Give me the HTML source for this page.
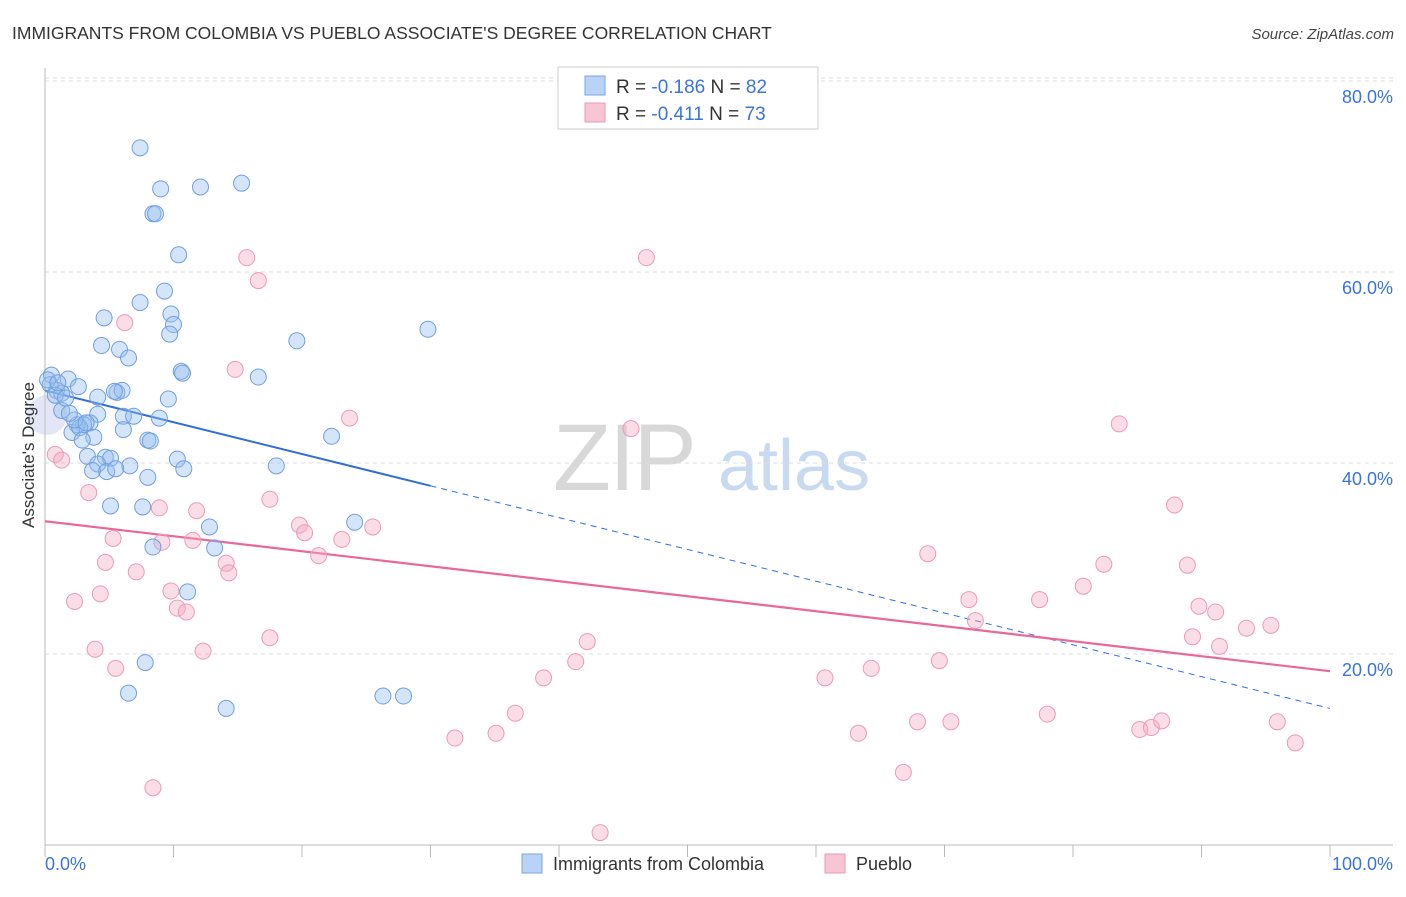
<!DOCTYPE html>
<html><head><meta charset="utf-8"><style>
body{margin:0;background:#fff;font-family:"Liberation Sans",sans-serif;}
svg text{font-family:"Liberation Sans",sans-serif;}
</style></head><body>
<svg id="chart" width="1406" height="892" xmlns="http://www.w3.org/2000/svg">
<text x="12" y="39" font-size="17.5" fill="#333">IMMIGRANTS FROM COLOMBIA VS PUEBLO ASSOCIATE'S DEGREE CORRELATION CHART</text>
<text x="1394" y="39" font-size="15" fill="#444" text-anchor="end" font-style="italic">Source: ZipAtlas.com</text>
<g>
<text x="553" y="490" font-size="95" fill="#d8d8d8" font-family="Liberation Serif" letter-spacing="-2">ZIP</text>
<text x="718" y="490" font-size="72" fill="#c8daf0">atlas</text>
</g>
<g id="grid"></g>
<g id="axes"></g>
<g id="trends"></g>
<g id="points"></g>
<text transform="translate(34,455) rotate(-90)" font-size="17" fill="#333" text-anchor="middle">Associate's Degree</text>
<g>
<rect x="558" y="67" width="260" height="62" fill="#fff" stroke="#ccc"/>
<rect x="585" y="76" width="20" height="19" fill="#b8d3f5" stroke="#7aa7e0"/>
<rect x="585" y="103" width="20" height="19" fill="#f8c5d5" stroke="#eb99b3"/>
<text x="616" y="93" font-size="19" fill="#333">R = <tspan fill="#3a74d6">-0.186</tspan>   N = <tspan fill="#3a74d6">82</tspan></text>
<text x="616" y="120" font-size="19" fill="#333">R = <tspan fill="#3a74d6">-0.411</tspan>   N = <tspan fill="#3a74d6">73</tspan></text>
</g>
<g>
<rect x="522" y="854" width="20" height="19" fill="#b8d3f5" stroke="#7aa7e0"/>
<text x="553" y="870" font-size="18" fill="#333">Immigrants from Colombia</text>
<rect x="825" y="854" width="20" height="19" fill="#f8c5d5" stroke="#eb99b3"/>
<text x="856" y="870" font-size="18" fill="#333">Pueblo</text>
</g>
</svg>
<script>
const yTicks=[20,40,60,80];
const yTickLabels=["20.0%","40.0%","60.0%","80.0%"];
const xLabels=["0.0%","100.0%"];
const blueX=[7.4,9.0,12.1,15.3,8.4,8.6,10.4,7.4,9.3,4.6,9.8,10.0,9.7,4.4,5.8,6.5,19.6,29.8,10.6,10.7,16.6,0.5,1.8,2.6,4.1,5.6,6.0,5.4,0.9,1.3,9.6,1.3,4.1,6.1,6.9,8.9,6.1,3.5,3.0,2.5,2.1,2.7,3.8,8.0,8.2,22.3,3.3,4.7,5.1,4.1,6.6,10.3,3.7,4.8,5.5,10.8,8.0,18.0,5.1,7.6,24.1,12.8,8.4,13.2,11.1,7.8,6.5,14.1,26.3,27.9,0.4,0.8,0.2,1.0,1.6,2.3,2.9,1.9,3.2];
const blueY=[73.0,68.7,68.9,69.3,66.1,66.1,61.8,56.8,58.0,55.2,55.6,54.5,53.5,52.3,51.9,51.0,52.8,54.0,49.6,49.4,49.0,49.2,48.8,48.0,46.9,47.4,47.6,47.5,47.6,47.3,46.7,45.5,45.1,44.9,44.9,44.7,43.5,44.2,44.0,44.0,43.2,43.7,42.7,42.4,42.3,42.8,40.7,40.6,40.5,39.9,39.7,40.4,39.2,39.1,39.4,39.4,38.5,39.7,35.5,35.4,33.8,33.3,31.2,31.1,26.5,19.1,15.9,14.3,15.6,15.6,48.2,47.1,48.7,48.4,46.8,44.5,42.4,45.2,44.2];
const pinkX=[8.4,43.2,46.8,15.7,16.6,6.2,14.8,23.7,45.6,83.6,0.8,1.3,3.4,17.5,8.9,11.8,19.8,20.2,23.1,25.5,5.3,9.1,11.5,4.7,7.1,14.1,14.3,21.3,9.8,2.3,4.3,10.3,11.0,17.5,3.9,12.3,5.5,42.2,41.3,38.8,36.6,35.1,31.9,68.7,71.9,72.4,77.4,80.8,82.4,87.9,88.9,89.8,91.1,89.3,91.4,93.5,95.4,60.7,64.3,69.6,63.3,67.9,70.5,78.0,85.2,86.1,86.9,95.9,97.3,66.8];
const pinkY=[6.0,1.3,61.5,61.5,59.1,54.7,49.8,44.7,43.6,44.1,40.9,40.3,36.9,36.2,35.3,35.0,33.5,32.7,32.0,33.3,32.1,31.7,31.9,29.6,28.6,29.5,28.5,30.3,26.6,25.5,26.3,24.8,24.4,21.7,20.5,20.3,18.5,21.3,19.2,17.5,13.8,11.7,11.2,30.5,25.7,23.5,25.7,27.1,29.4,35.6,29.3,25.0,24.4,21.8,20.8,22.7,23.0,17.5,18.5,19.3,11.7,12.9,12.9,13.7,12.1,12.3,13.0,12.9,10.7,7.6];
const blueTrend=[47.6,14.3];
const blueSolidEnd=30;
const pinkTrend=[33.9,18.2];

const NS="http://www.w3.org/2000/svg";
const X0=45,X1=1330,Y0=845,YPER=9.55;
function sx(v){return X0+(X1-X0)*v/100;}
function sy(v){return Y0-v*YPER;}
function mk(tag,attrs,parent){const e=document.createElementNS(NS,tag);for(const k in attrs)e.setAttribute(k,attrs[k]);parent.appendChild(e);return e;}
const grid=document.getElementById('grid'),axes=document.getElementById('axes'),trends=document.getElementById('trends'),pts=document.getElementById('points');
yTicks.forEach((t,i)=>{
 const l=mk('line',{x1:X0,x2:1393,y1:sy(t),y2:sy(t),stroke:'#ddd','stroke-dasharray':'4,4'},grid);
 
 
 const tx=mk('text',{x:1393,y:sy(t)+22,'font-size':18,fill:'#3a74d6','text-anchor':'end'},axes);
 tx.textContent=yTickLabels[i];
 
 
});
const tl=mk('line',{x1:X0,x2:1393,y1:78,y2:78,stroke:'#ddd','stroke-dasharray':'4,4'},grid);


const ya=mk('line',{x1:X0,x2:X0,y1:68,y2:Y0,stroke:'#bbb'},axes);


const xa=mk('line',{x1:X0,x2:1393,y1:Y0,y2:Y0,stroke:'#bbb'},axes);


for(let i=0;i<=10;i++){
 const t=mk('line',{x1:sx(i*10),x2:sx(i*10),y1:Y0,y2:Y0+12,stroke:'#bbb'},axes);
 
 
}
[[0,'start',45],[100,'end',1393]].forEach((d,i)=>{
 const t=mk('text',{x:d[2],y:870,'font-size':18,fill:'#3a74d6','text-anchor':d[1]},axes);
 t.textContent=xLabels[i];
 
 
});
function ty(tr,x){return tr[0]+(tr[1]-tr[0])*x/100;}
const bs=mk('line',{x1:sx(0),y1:sy(ty(blueTrend,0)),x2:sx(blueSolidEnd),y2:sy(ty(blueTrend,blueSolidEnd)),stroke:'#2f6fd6','stroke-width':2},trends);


const bd=mk('line',{x1:sx(blueSolidEnd),y1:sy(ty(blueTrend,blueSolidEnd)),x2:sx(100),y2:sy(ty(blueTrend,100)),stroke:'#2f6fd6','stroke-width':1,'stroke-dasharray':'6,5'},trends);


const pl=mk('line',{x1:sx(0),y1:sy(pinkTrend[0]),x2:sx(100),y2:sy(pinkTrend[1]),stroke:'#e8689a','stroke-width':2.2},trends);


const blob=mk('circle',{cx:47,cy:415,r:20,fill:'rgba(190,200,235,0.45)'},pts);


pinkX.forEach((x,i)=>{
 const c=mk('circle',{cx:sx(x),cy:sy(pinkY[i]),r:8,fill:'rgba(245,170,195,0.4)',stroke:'#eb9ab5','stroke-width':1},pts);
 
 
});
blueX.forEach((x,i)=>{
 const c=mk('circle',{cx:sx(x),cy:sy(blueY[i]),r:8,fill:'rgba(150,190,240,0.4)',stroke:'#6f9fde','stroke-width':1},pts);
 
 
});
</script>
</body></html>
